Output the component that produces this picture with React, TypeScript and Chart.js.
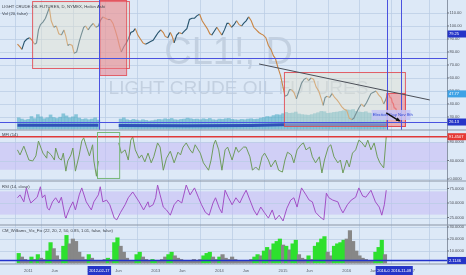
import React, { useEffect, useRef } from "react";
import { Chart, registerables } from "chart.js";
Chart.register(...registerables);

const FONT = "'Liberation Sans', Arial, sans-serif";
const BG = "#dde9f7";
const GRID = "rgba(185,204,228,0.75)";

// ---- time axis (fractional years) ----
const X_MIN = 2010.826;
const X_MAX = 2017.304;
const xTickValues = [2011, 2011.416, 2012, 2012.416, 2013, 2013.416, 2014, 2014.416, 2015, 2015.416, 2016, 2016.416, 2017];
const xTickLabels = ["2011", "Jun", "2012", "Jun", "2013", "Jun", "2014", "Jun", "2015", "Jun", "2016", "Jun", "2017"];

// ---- right axis tick labels ----
const mainTicks = [110, 100, 90, 80, 70, 60, 50, 40, 30];
const mfiTicks = [80, 40, 0];
const rsiTicks = [75, 50, 25];
const vixTicks = [30, 20, 10];

// ---- price (Heikin Ashi close, CL1!) ----
const priceSeries: [number, number][] = [
  [2010.83, 86], [2010.87, 84], [2010.9, 82], [2010.94, 88], [2010.98, 90], [2011.02, 91], [2011.06, 89], [2011.1, 86],
  [2011.13, 87], [2011.16, 97], [2011.19, 101], [2011.23, 103], [2011.27, 106], [2011.3, 110], [2011.33, 114], [2011.36, 104],
  [2011.4, 99], [2011.44, 100], [2011.48, 94], [2011.52, 93], [2011.56, 97], [2011.59, 92], [2011.62, 85], [2011.65, 86],
  [2011.69, 85], [2011.72, 79], [2011.76, 80], [2011.8, 88], [2011.83, 93], [2011.87, 99], [2011.9, 100], [2011.94, 97],
  [2011.98, 100], [2012.02, 102], [2012.06, 99], [2012.1, 100], [2012.13, 104], [2012.17, 107], [2012.21, 106], [2012.25, 105],
  [2012.29, 105], [2012.33, 102], [2012.37, 96], [2012.4, 91], [2012.43, 85], [2012.46, 80], [2012.5, 84], [2012.54, 87],
  [2012.57, 90], [2012.61, 95], [2012.65, 96], [2012.68, 98], [2012.72, 93], [2012.76, 90], [2012.8, 87], [2012.84, 86],
  [2012.88, 87], [2012.92, 88], [2012.96, 89], [2013.0, 92], [2013.04, 95], [2013.08, 97], [2013.12, 95], [2013.15, 92],
  [2013.19, 91], [2013.23, 95], [2013.26, 92], [2013.29, 87], [2013.33, 93], [2013.37, 95], [2013.41, 94], [2013.45, 96],
  [2013.49, 98], [2013.53, 105], [2013.57, 106], [2013.61, 106], [2013.65, 108], [2013.69, 109], [2013.73, 104], [2013.77, 101],
  [2013.81, 98], [2013.85, 94], [2013.88, 93], [2013.92, 96], [2013.96, 99], [2014.0, 96], [2014.04, 93], [2014.08, 97],
  [2014.12, 102], [2014.15, 102], [2014.19, 99], [2014.23, 101], [2014.27, 104], [2014.31, 101], [2014.35, 100], [2014.38, 102],
  [2014.42, 104], [2014.46, 107], [2014.5, 104], [2014.54, 99], [2014.58, 97], [2014.62, 95], [2014.65, 94], [2014.69, 93],
  [2014.73, 91], [2014.77, 85], [2014.81, 82], [2014.85, 77], [2014.88, 75], [2014.92, 68], [2014.96, 62], [2015.0, 53],
  [2015.03, 46], [2015.07, 47], [2015.1, 51], [2015.13, 51], [2015.17, 49], [2015.21, 44], [2015.25, 50], [2015.29, 56],
  [2015.33, 59], [2015.37, 60], [2015.4, 58], [2015.44, 60], [2015.48, 59], [2015.52, 53], [2015.56, 50], [2015.6, 44],
  [2015.63, 39], [2015.66, 45], [2015.69, 46], [2015.73, 45], [2015.77, 48], [2015.81, 45], [2015.85, 43], [2015.88, 41],
  [2015.92, 38], [2015.96, 36], [2016.0, 35], [2016.04, 29], [2016.08, 28], [2016.11, 29], [2016.15, 33], [2016.19, 37],
  [2016.23, 40], [2016.27, 38], [2016.31, 41], [2016.35, 45], [2016.38, 48], [2016.42, 49], [2016.46, 50], [2016.5, 47],
  [2016.54, 45], [2016.58, 40], [2016.61, 43], [2016.64, 47.77],
];

// ---- volume (thousands) ----
const volumeSeries: [number, number | null][] = [
  [2010.85, 700], [2010.9, 620], [2010.95, 560], [2011.0, 600], [2011.05, 780], [2011.1, 650], [2011.15, 900], [2011.2, 760],
  [2011.25, 640], [2011.3, 700], [2011.35, 880], [2011.4, 720], [2011.45, 660], [2011.5, 740], [2011.55, 950], [2011.6, 820],
  [2011.65, 700], [2011.7, 760], [2011.75, 900], [2011.8, 680], [2011.85, 600], [2011.9, 640], [2011.95, 580], [2012.0, 620],
  [2012.05, 700], [2012.1, 560],
  [2012.45, 620], [2012.5, 700], [2012.55, 580], [2012.6, 540], [2012.65, 600], [2012.7, 560], [2012.75, 520], [2012.8, 580],
  [2012.85, 540], [2012.9, 500], [2012.95, 520], [2013.0, 560], [2013.05, 600], [2013.1, 580], [2013.15, 640], [2013.2, 600],
  [2013.25, 660], [2013.3, 580], [2013.35, 560], [2013.4, 600], [2013.45, 620], [2013.5, 680], [2013.55, 640], [2013.6, 600],
  [2013.65, 620], [2013.7, 580], [2013.75, 640], [2013.8, 600], [2013.85, 660], [2013.9, 580], [2013.95, 560], [2014.0, 620],
  [2014.05, 600], [2014.1, 640], [2014.15, 660], [2014.2, 600], [2014.25, 580], [2014.3, 560], [2014.35, 600], [2014.4, 580],
  [2014.45, 620], [2014.5, 640], [2014.55, 600], [2014.6, 620], [2014.65, 680], [2014.7, 720], [2014.75, 780], [2014.8, 760],
  [2014.85, 840], [2014.9, 900], [2014.95, 880], [2015.0, 960], [2015.05, 1040], [2015.1, 980], [2015.15, 1000], [2015.2, 1060],
  [2015.25, 940], [2015.3, 900], [2015.35, 880], [2015.4, 860], [2015.45, 900], [2015.5, 960], [2015.55, 1020], [2015.6, 1100],
  [2015.65, 1080], [2015.7, 980], [2015.75, 1000], [2015.8, 1040], [2015.85, 1060], [2015.9, 1100], [2015.95, 1140], [2016.0, 1200],
  [2016.05, 1180], [2016.1, 1220], [2016.15, 1100], [2016.2, 1060], [2016.25, 1040], [2016.3, 1080], [2016.35, 1000], [2016.4, 980],
  [2016.45, 1040], [2016.5, 1020], [2016.55, 1060], [2016.6, 1000],
];
const volumeMa: [number, number | null][] = [
  [2010.83, 230], [2011.5, 240], [2012.1, 230], [2012.2, null], [2012.42, 220], [2013.5, 210], [2014.5, 220], [2015.0, 260],
  [2016.0, 280], [2016.64, 260],
];

// ---- MFI (14) ----
const mfiSeries: [number, number | null][] = [
  [2010.83, 63], [2010.87, 52], [2010.93, 71], [2010.97, 56], [2011.01, 41], [2011.07, 39], [2011.12, 50], [2011.16, 82],
  [2011.2, 67], [2011.23, 56], [2011.29, 45], [2011.3, 60], [2011.36, 52], [2011.41, 41], [2011.43, 67], [2011.48, 45],
  [2011.52, 41], [2011.55, 56], [2011.59, 17], [2011.62, 39], [2011.67, 52], [2011.7, 67], [2011.74, 17], [2011.8, 52],
  [2011.84, 82], [2011.87, 89], [2011.91, 71], [2011.96, 50], [2012.01, 74], [2012.03, 39], [2012.07, 6], [2012.1, 39],
  [2012.2, null],
  [2012.42, 78], [2012.46, 56], [2012.52, 63], [2012.57, 41], [2012.61, 84], [2012.64, 91], [2012.68, 63], [2012.74, 45],
  [2012.78, 52], [2012.83, 37], [2012.88, 56], [2012.93, 35], [2012.97, 48], [2013.03, 78], [2013.07, 69], [2013.12, 19],
  [2013.17, 45], [2013.23, 60], [2013.29, 35], [2013.35, 58], [2013.39, 52], [2013.43, 69], [2013.48, 78], [2013.54, 63],
  [2013.58, 56], [2013.62, 74], [2013.7, 56], [2013.75, 35], [2013.83, 19], [2013.87, 41], [2013.91, 74], [2013.94, 84],
  [2013.99, 63], [2014.04, 19], [2014.09, 63], [2014.13, 69], [2014.2, 41], [2014.26, 69], [2014.3, 58], [2014.38, 69],
  [2014.42, 69], [2014.48, 48], [2014.52, 19], [2014.57, 26], [2014.62, 19], [2014.67, 48], [2014.71, 56], [2014.77, 41],
  [2014.81, 26], [2014.88, 41], [2014.93, 19], [2014.99, 15], [2015.03, 41], [2015.07, 58], [2015.13, 52], [2015.17, 35],
  [2015.22, 63], [2015.28, 74], [2015.32, 78], [2015.36, 63], [2015.42, 69], [2015.46, 48], [2015.51, 35], [2015.57, 48],
  [2015.61, 13], [2015.65, 41], [2015.71, 69], [2015.75, 74], [2015.8, 48], [2015.86, 35], [2015.9, 41], [2015.94, 13],
  [2016.0, 41], [2016.04, 26], [2016.09, 56], [2016.14, 63], [2016.19, 84], [2016.23, 80], [2016.29, 69], [2016.33, 84],
  [2016.38, 63], [2016.43, 78], [2016.48, 48], [2016.52, 35], [2016.58, 24], [2016.62, 91.45],
];
const mfiLast = 91.4507;

// ---- RSI (14, close) ----
const rsiSeries: [number, number][] = [
  [2010.83, 59], [2010.87, 64], [2010.93, 52], [2010.97, 76], [2011.01, 59], [2011.04, 50], [2011.09, 55], [2011.14, 60],
  [2011.19, 78], [2011.22, 59], [2011.26, 64], [2011.3, 41], [2011.33, 38], [2011.38, 52], [2011.43, 59], [2011.48, 50],
  [2011.52, 60], [2011.58, 26], [2011.59, 24], [2011.65, 41], [2011.7, 52], [2011.74, 38], [2011.8, 64], [2011.84, 76],
  [2011.91, 52], [2011.99, 38], [2012.03, 52], [2012.1, 64], [2012.13, 78], [2012.17, 52], [2012.23, 55], [2012.28, 47],
  [2012.35, 24], [2012.39, 21], [2012.45, 34], [2012.52, 47], [2012.57, 59], [2012.64, 69], [2012.67, 64], [2012.74, 52],
  [2012.81, 38], [2012.88, 52], [2012.9, 43], [2012.96, 47], [2013.0, 59], [2013.03, 81], [2013.07, 64], [2013.12, 43],
  [2013.17, 38], [2013.23, 29], [2013.29, 47], [2013.35, 55], [2013.41, 50], [2013.48, 81], [2013.54, 64], [2013.61, 76],
  [2013.67, 60], [2013.72, 47], [2013.78, 34], [2013.84, 29], [2013.9, 50], [2013.94, 59], [2014.0, 41], [2014.04, 33],
  [2014.09, 72], [2014.14, 60], [2014.2, 47], [2014.26, 59], [2014.32, 50], [2014.38, 64], [2014.42, 72], [2014.48, 55],
  [2014.54, 38], [2014.59, 29], [2014.65, 43], [2014.71, 33], [2014.77, 24], [2014.83, 38], [2014.88, 21], [2014.94, 29],
  [2015.0, 19], [2015.06, 41], [2015.12, 55], [2015.17, 59], [2015.22, 43], [2015.29, 76], [2015.36, 64], [2015.41, 55],
  [2015.46, 52], [2015.51, 34], [2015.58, 26], [2015.64, 21], [2015.68, 67], [2015.72, 59], [2015.78, 55], [2015.86, 52],
  [2015.9, 41], [2015.94, 33], [2016.01, 47], [2016.07, 55], [2016.14, 60], [2016.19, 76], [2016.25, 62], [2016.3, 60],
  [2016.38, 72], [2016.45, 52], [2016.51, 43], [2016.55, 29], [2016.59, 47], [2016.62, 72],
];

// ---- CM Williams Vix Fix: [time, value, signal(1 = green)] ----
const vixSeries: [number, number, number][] = [
  [2010.85, 8, 1], [2010.9, 5, 0], [2010.95, 3, 0], [2011.0, 2, 0], [2011.05, 5, 1], [2011.1, 3, 0], [2011.15, 7, 1], [2011.2, 4, 0],
  [2011.25, 3, 0], [2011.3, 10, 1], [2011.35, 17, 1], [2011.4, 12, 0], [2011.45, 6, 0], [2011.5, 3, 0], [2011.55, 14, 1], [2011.6, 23, 1],
  [2011.65, 16, 0], [2011.7, 20, 0], [2011.75, 18, 0], [2011.8, 9, 0], [2011.85, 5, 0], [2011.9, 3, 0], [2011.95, 7, 1], [2012.0, 4, 0],
  [2012.05, 2, 0], [2012.1, 2, 0], [2012.15, 2, 0], [2012.2, 3, 0], [2012.25, 4, 1], [2012.3, 3, 0], [2012.35, 17, 1], [2012.4, 21, 1],
  [2012.45, 14, 0], [2012.5, 9, 0], [2012.55, 4, 0], [2012.6, 2, 0], [2012.65, 2, 0], [2012.7, 7, 1], [2012.75, 9, 1], [2012.8, 5, 0],
  [2012.85, 3, 0], [2012.9, 2, 0], [2012.95, 3, 1], [2013.0, 2, 1], [2013.05, 2, 0], [2013.1, 3, 0], [2013.15, 5, 0], [2013.2, 7, 1],
  [2013.25, 9, 1], [2013.3, 6, 0], [2013.35, 4, 0], [2013.4, 3, 0], [2013.45, 2, 0], [2013.5, 2, 0], [2013.55, 2, 0], [2013.6, 3, 0],
  [2013.65, 2, 0], [2013.7, 3, 0], [2013.75, 6, 1], [2013.8, 8, 1], [2013.85, 9, 1], [2013.9, 5, 0], [2013.95, 3, 0], [2014.0, 5, 1],
  [2014.05, 7, 0], [2014.1, 4, 0], [2014.15, 3, 0], [2014.2, 5, 0], [2014.25, 3, 0], [2014.3, 2, 0], [2014.35, 2, 0], [2014.4, 2, 0],
  [2014.45, 2, 0], [2014.5, 3, 0], [2014.55, 5, 1], [2014.6, 7, 1], [2014.65, 6, 0], [2014.7, 10, 1], [2014.75, 13, 1], [2014.8, 11, 0],
  [2014.85, 16, 1], [2014.9, 18, 1], [2014.95, 20, 1], [2015.0, 15, 0], [2015.05, 14, 1], [2015.1, 11, 0], [2015.15, 16, 1], [2015.2, 19, 1],
  [2015.25, 7, 0], [2015.3, 4, 0], [2015.35, 3, 0], [2015.4, 6, 1], [2015.45, 3, 0], [2015.5, 14, 1], [2015.55, 17, 1], [2015.6, 20, 1],
  [2015.65, 22, 1], [2015.7, 9, 0], [2015.75, 6, 0], [2015.8, 14, 1], [2015.85, 16, 1], [2015.9, 17, 1], [2015.95, 19, 1], [2016.0, 20, 0],
  [2016.05, 27, 0], [2016.1, 18, 0], [2016.15, 10, 0], [2016.2, 6, 0], [2016.25, 4, 0], [2016.3, 3, 0], [2016.35, 2, 0], [2016.4, 2, 0],
  [2016.45, 9, 1], [2016.5, 13, 1], [2016.55, 19, 1], [2016.6, 7, 0],
];
const vixLast = 2.1146;

// ---- drawings (data units: time, value) ----
const projection: [number, number][] = [
  [2016.64, 48.0], [2016.665, 47], [2016.68, 45], [2016.7, 44.5], [2016.715, 41], [2016.73, 40.5], [2016.745, 37],
  [2016.77, 36.5], [2016.79, 33], [2016.82, 32], [2016.855, 26.13],
];
const trendLine: [number, number][] = [[2014.623, 70.8], [2017.304, 43.1]];
const electionArrow: [number, number][] = [[2016.62, 33.1], [2016.83, 26.9]];
const hLevels = [75.4, 26.13];
const vLines = [2012.116, 2016.638, 2016.855];
const rects = [
  { t0: 2011.06, t1: 2012.58, p0: 119.2, p1: 67.7, fill: "rgba(228,226,205,0.42)" },
  { t0: 2012.116, t1: 2012.536, p0: 120, p1: 62.3, fill: "rgba(236,120,132,0.5)" },
  { t0: 2015.014, t1: 2016.913, p0: 64.6, p1: 23.1, fill: "rgba(228,226,205,0.42)" },
  { t0: 2016.623, t1: 2016.913, p0: 48.5, p1: 23.1, fill: "rgba(240,120,132,0.5)" },
];
const mfiRect = { t0: 2012.072, t1: 2012.42, v0: 101.6, v1: 2.2 };
const priceFlags = [
  { value: 93.85, text: "79.25", color: "#2535c8" },
  { value: 47.77, text: "47.77", color: "#3ea2e6" },
  { value: 26.13, text: "26.13", color: "#2535c8" },
];
const timeFlags = [
  { t: 2012.116, text: "2012-02-17" },
  { t: 2016.638, text: "2016-08-19" },
  { t: 2016.855, text: "2016-11-08" },
];

// pane ranges
const mainRange = [20, 120];
const mfiRange = [-4.3, 105.9];
const rsiRange = [12.1, 87.9];
const mfiBand = [20, 80];
const rsiBand = [30, 70];
const mfiRed = 91.4507;

const overlay = {
  id: "overlay",
  beforeDraw(chart: any) {
    const { ctx, width, height } = chart;
    const xs = chart.scales.x;
    const ym = chart.scales.yMain;
    ctx.save();
    ctx.fillStyle = BG;
    ctx.fillRect(0, 0, width, height);
    ctx.fillStyle = "rgba(140,155,178,0.32)";
    ctx.textAlign = "center";
    ctx.textBaseline = "middle";
    ctx.font = `38px ${FONT}`;
    ctx.fillText("CL1!, D", xs.getPixelForValue(2014.145), ym.getPixelForValue(79.2));
    ctx.font = `19px ${FONT}`;
    ctx.fillText("LIGHT CRUDE OIL FUTURES", xs.getPixelForValue(2014.3), ym.getPixelForValue(51.5));
    ctx.restore();
  },
  beforeDatasetsDraw(chart: any) {
    const { ctx, chartArea: ca } = chart;
    const s = chart.scales;
    ctx.save();
    ctx.fillStyle = "rgba(196,186,246,0.55)";
    let a = s.yMfi.getPixelForValue(mfiBand[1]), b = s.yMfi.getPixelForValue(mfiBand[0]);
    ctx.fillRect(ca.left, a, ca.right - ca.left, b - a);
    a = s.yRsi.getPixelForValue(rsiBand[1]); b = s.yRsi.getPixelForValue(rsiBand[0]);
    ctx.fillRect(ca.left, a, ca.right - ca.left, b - a);
    ctx.strokeStyle = GRID;
    ctx.lineWidth = 1;
    const grid = (sc: any, vals: number[]) => vals.forEach((v) => {
      const y = Math.round(sc.getPixelForValue(v)) + 0.5;
      ctx.beginPath(); ctx.moveTo(ca.left, y); ctx.lineTo(ca.right, y); ctx.stroke();
    });
    grid(s.yMain, mainTicks); grid(s.yMfi, mfiTicks); grid(s.yRsi, rsiTicks); grid(s.yVix, vixTicks);
    ctx.restore();
  },
  afterDraw(chart: any) {
    const { ctx, chartArea: ca, width, height } = chart;
    const s = chart.scales;
    const X = (t: number) => s.x.getPixelForValue(t);
    const P = (v: number) => s.yMain.getPixelForValue(v);
    ctx.save();
    ctx.beginPath(); ctx.rect(ca.left, 0, ca.right - ca.left, ca.bottom); ctx.clip();
    // rectangles
    rects.forEach((r) => {
      const x0 = X(r.t0), x1 = X(r.t1), y0 = P(r.p0), y1 = P(r.p1);
      ctx.fillStyle = r.fill;
      ctx.fillRect(x0, y0, x1 - x0, y1 - y0);
      ctx.strokeStyle = "rgba(226,70,80,0.85)";
      ctx.lineWidth = 1;
      ctx.strokeRect(x0 + 0.5, y0 + 0.5, x1 - x0, y1 - y0);
    });
    // vertical lines (main pane)
    ctx.strokeStyle = "#4a52e0";
    ctx.lineWidth = 1;
    vLines.forEach((t) => {
      const x = Math.round(X(t)) + 0.5;
      ctx.beginPath(); ctx.moveTo(x, P(mainRange[1])); ctx.lineTo(x, P(mainRange[0])); ctx.stroke();
    });
    hLevels.forEach((v) => {
      const y = Math.round(P(v)) + 0.5;
      ctx.beginPath(); ctx.moveTo(ca.left, y); ctx.lineTo(ca.right, y); ctx.stroke();
    });
    // trend line
    ctx.strokeStyle = "#4b4f58";
    ctx.beginPath(); ctx.moveTo(X(trendLine[0][0]), P(trendLine[0][1])); ctx.lineTo(X(trendLine[1][0]), P(trendLine[1][1])); ctx.stroke();
    // election label
    const bx0 = X(2016.391), bx1 = X(2017.0), by0 = P(35.4), by1 = P(27.7);
    ctx.fillStyle = "rgba(196,196,246,0.85)";
    ctx.fillRect(bx0, by0, bx1 - bx0, by1 - by0);
    ctx.fillStyle = "#3047d6";
    ctx.font = `4.3px ${FONT}`;
    ctx.textAlign = "left"; ctx.textBaseline = "middle";
    ctx.fillText("Election Day Nov 8th", bx0 + 1, (by0 + by1) / 2);
    // arrow
    const ax0 = X(electionArrow[0][0]), ay0 = P(electionArrow[0][1]);
    const ax1 = X(electionArrow[1][0]), ay1 = P(electionArrow[1][1]);
    ctx.strokeStyle = "#111"; ctx.fillStyle = "#111"; ctx.lineWidth = 1.5;
    ctx.beginPath(); ctx.moveTo(ax0, ay0); ctx.lineTo(ax1, ay1); ctx.stroke();
    const ang = Math.atan2(ay1 - ay0, ax1 - ax0);
    ctx.beginPath();
    ctx.moveTo(ax1 + 1, ay1 + 0.3);
    ctx.lineTo(ax1 - 4 * Math.cos(ang - 0.5), ay1 - 4 * Math.sin(ang - 0.5));
    ctx.lineTo(ax1 - 4 * Math.cos(ang + 0.5), ay1 - 4 * Math.sin(ang + 0.5));
    ctx.closePath(); ctx.fill();
    // MFI red level and green box
    ctx.lineWidth = 1.5; ctx.strokeStyle = "#e03a3a";
    let y = s.yMfi.getPixelForValue(mfiRed);
    ctx.beginPath(); ctx.moveTo(ca.left, y); ctx.lineTo(ca.right, y); ctx.stroke();
    ctx.lineWidth = 1; ctx.strokeStyle = "#78b878";
    const gx0 = X(mfiRect.t0), gx1 = X(mfiRect.t1), gy0 = s.yMfi.getPixelForValue(mfiRect.v0), gy1 = s.yMfi.getPixelForValue(mfiRect.v1);
    ctx.strokeRect(Math.round(gx0) + 0.5, Math.round(gy0) + 0.5, gx1 - gx0, gy1 - gy0);
    // vix level
    ctx.strokeStyle = "#2233cc"; ctx.lineWidth = 1.5;
    y = s.yVix.getPixelForValue(vixLast);
    ctx.beginPath(); ctx.moveTo(ca.left, y); ctx.lineTo(ca.right, y); ctx.stroke();
    ctx.restore();

    ctx.save();
    // pane separators
    ctx.strokeStyle = "#8b96a6"; ctx.lineWidth = 1.2;
    const seps = [P(mainRange[0]), s.yMfi.getPixelForValue(mfiRange[0]), s.yRsi.getPixelForValue(rsiRange[0]), ca.bottom];
    seps.forEach((sy) => { ctx.beginPath(); ctx.moveTo(0, sy); ctx.lineTo(width, sy); ctx.stroke(); });
    ctx.lineWidth = 1;
    ctx.beginPath(); ctx.moveTo(ca.right + 0.5, 0); ctx.lineTo(ca.right + 0.5, ca.bottom); ctx.stroke();
    // pane titles
    ctx.fillStyle = "#3a3f48";
    ctx.font = `4.2px ${FONT}`;
    ctx.textAlign = "left"; ctx.textBaseline = "middle";
    ctx.fillText("LIGHT CRUDE OIL FUTURES, D, NYMEX, Heikin Ashi", 2, 6.5);
    ctx.fillText("Vol (20, false)", 2, 14);
    ctx.fillText("MFI (14)", 2, s.yMfi.getPixelForValue(mfiRange[1]) + 5);
    ctx.fillText("RSI (14, close)", 2, s.yRsi.getPixelForValue(rsiRange[1]) + 6);
    ctx.fillText("CM_Williams_Vix_Fix (22, 20, 2, 50, 0.85, 1.01, false, false)", 2, s.yVix.getPixelForValue(31.7) + 6);
    // right axis labels
    ctx.fillStyle = "#4a4f58"; ctx.strokeStyle = "#6d7480";
    const lab = (sc: any, vals: number[], dec: number) => vals.forEach((v) => {
      const ly = sc.getPixelForValue(v);
      ctx.beginPath(); ctx.moveTo(ca.right, ly); ctx.lineTo(ca.right + 2, ly); ctx.stroke();
      ctx.fillText(v.toFixed(dec), ca.right + 2.5, ly);
    });
    ctx.font = `4px ${FONT}`;
    lab(s.yMain, mainTicks, 2); lab(s.yMfi, mfiTicks, 4); lab(s.yRsi, rsiTicks, 4); lab(s.yVix, vixTicks, 4);
    const flag = (ly: number, text: string, color: string) => {
      ctx.fillStyle = color;
      ctx.fillRect(ca.right + 0.5, ly - 3.5, width - ca.right, 7);
      ctx.fillStyle = "#ffffff";
      ctx.fillText(text, ca.right + 2, ly);
    };
    priceFlags.forEach((f) => flag(P(f.value), f.text, f.color));
    flag(s.yMfi.getPixelForValue(mfiLast), mfiLast.toFixed(4), "#e53935");
    flag(s.yVix.getPixelForValue(vixLast), vixLast.toFixed(4), "#2535c8");
    // time flags
    ctx.textAlign = "center";
    timeFlags.forEach((f) => {
      const fx = X(f.t);
      const w = ctx.measureText(f.text).width + 3;
      ctx.fillStyle = "#2535c8";
      ctx.fillRect(fx - w / 2, ca.bottom + 2, w, height - ca.bottom - 2);
      ctx.fillStyle = "#ffffff";
      ctx.fillText(f.text, fx, ca.bottom + 6.5);
    });
    ctx.restore();
  },
};

export default function App() {
  const ref = useRef<HTMLCanvasElement>(null);
  useEffect(() => {
    const canvas = ref.current;
    if (!canvas) return;
    const chart = new Chart(canvas, {
      type: "line",
      data: {
        datasets: [
          {
            type: "line", label: "Projection", data: projection.map(([x, y]) => ({ x, y })), yAxisID: "yMain",
            borderColor: "#e3262a", borderWidth: 1.2, pointRadius: 0, order: 0,
          },
          {
            type: "line", label: "CL1!", data: priceSeries.map(([x, y]) => ({ x, y })), yAxisID: "yMain",
            borderWidth: 1.1, pointRadius: 0, order: 1, borderColor: "#27546e",
            segment: { borderColor: (c: any) => (c.p1.parsed.y >= c.p0.parsed.y ? "#27546e" : "#c98544") },
          },
          {
            type: "line", label: "MFI", data: mfiSeries.map(([x, y]) => ({ x, y })), yAxisID: "yMfi",
            borderColor: "#6f9c5c", borderWidth: 1, pointRadius: 0, spanGaps: false, order: 2,
          },
          {
            type: "line", label: "RSI", data: rsiSeries.map(([x, y]) => ({ x, y })), yAxisID: "yRsi",
            borderColor: "#a250c6", borderWidth: 1, pointRadius: 0, order: 2,
          },
          {
            type: "bar", label: "Vix Fix", data: vixSeries.map(([x, y]) => ({ x, y })), yAxisID: "yVix",
            backgroundColor: (c: any) => (vixSeries[c.dataIndex] && vixSeries[c.dataIndex][2] ? "#2ee02e" : "#878787"),
            barThickness: 3.5, grouped: false, order: 3,
          } as any,
          {
            type: "line", label: "Vol MA", data: volumeMa.map(([x, y]) => ({ x, y })), yAxisID: "yVol",
            borderColor: "#2f52b8", borderWidth: 3, pointRadius: 0, spanGaps: false, order: 4,
          },
          {
            type: "bar", label: "Volume", data: volumeSeries.map(([x, y]) => ({ x, y })), yAxisID: "yVol",
            backgroundColor: "rgba(78,172,196,0.6)", barThickness: 3, grouped: false, order: 5,
          } as any,
        ],
      },
      options: {
        animation: false,
        responsive: false,
        devicePixelRatio: 1,
        events: [],
        layout: { padding: { left: 0, right: 19, top: 0, bottom: 0 } },
        plugins: { legend: { display: false }, tooltip: { enabled: false } },
        scales: {
          x: {
            type: "linear", min: X_MIN, max: X_MAX,
            afterBuildTicks: (sc: any) => { sc.ticks = xTickValues.map((v) => ({ value: v })); },
            afterFit: (sc: any) => { sc.height = 11; sc.paddingLeft = 0; sc.paddingRight = 0; },
            ticks: {
              autoSkip: false, maxRotation: 0, padding: 4, color: "#555b66",
              font: { size: 4, family: FONT },
              callback: (v: any) => { const i = xTickValues.indexOf(Number(v)); return i >= 0 ? xTickLabels[i] : ""; },
            },
            grid: { color: GRID, drawTicks: false, lineWidth: 1 },
            border: { display: false },
          },
          yMain: { type: "linear", display: false, min: -83.08, max: 120 },
          yVol: { type: "linear", display: false, min: -8437.5, max: 8062.5 },
          yMfi: { type: "linear", display: false, min: -183.78, max: 387.03 },
          yRsi: { type: "linear", display: false, min: -55.17, max: 400 },
          yVix: { type: "linear", display: false, min: -0.833, max: 219.17 },
        },
      } as any,
      plugins: [overlay],
    });
    return () => chart.destroy();
  }, []);
  return (
    <div style={{ position: "fixed", left: 0, top: 0, width: 466, height: 275 }}>
      <canvas ref={ref} width={466} height={275} style={{ display: "block", width: 466, height: 275 }} />
    </div>
  );
}
